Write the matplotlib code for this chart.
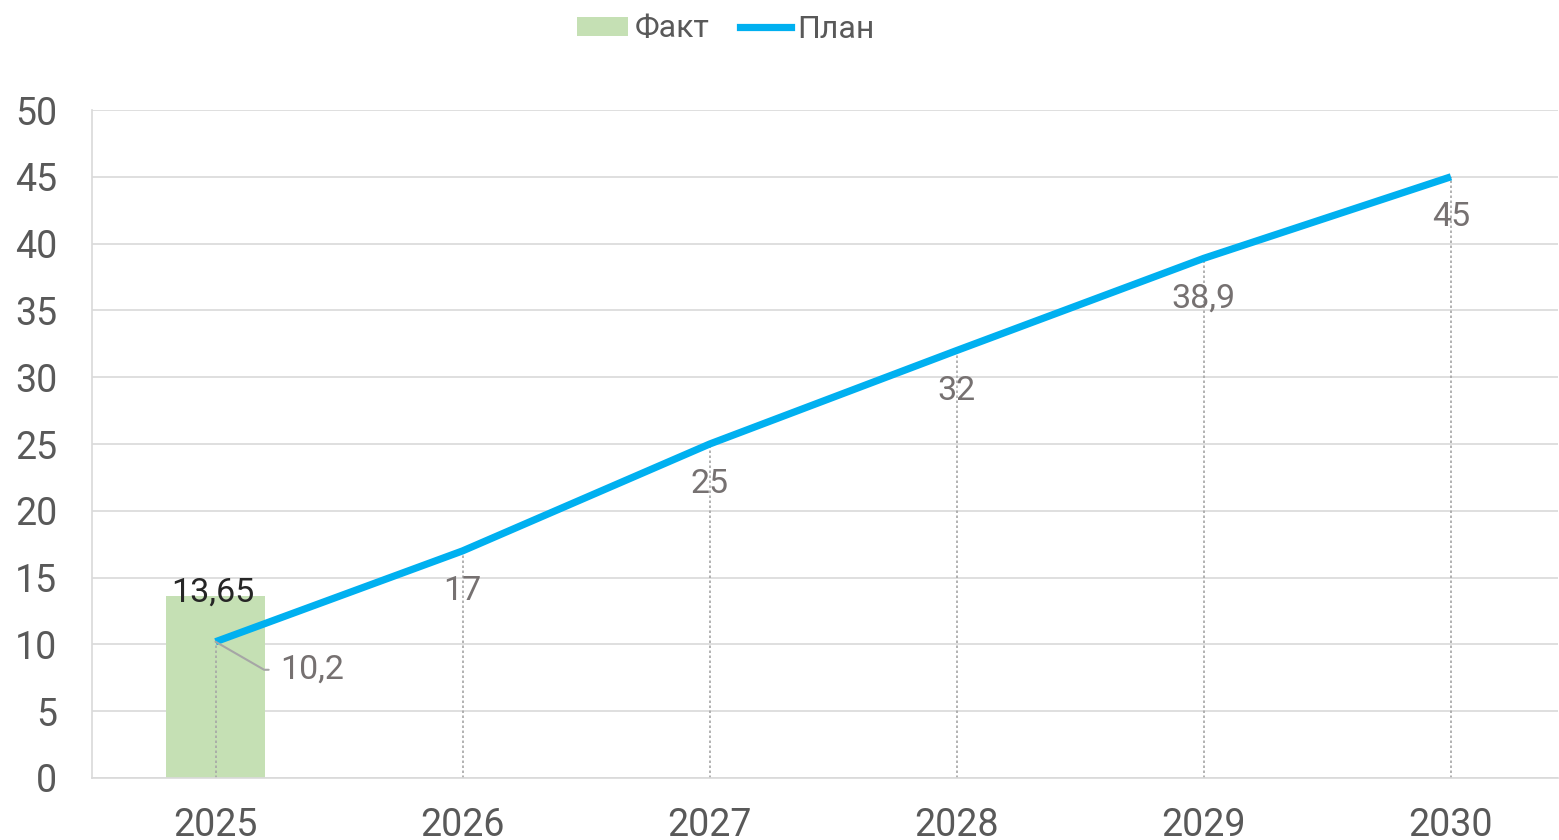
import matplotlib
matplotlib.use("Agg")
import matplotlib.pyplot as plt
from matplotlib.patches import Patch
from matplotlib.lines import Line2D

plt.rcParams['font.family'] = ['Roboto', 'DejaVu Sans']

years = ['2025', '2026', '2027', '2028', '2029', '2030']
fact = [13.65]
plan = [10.2, 17, 25, 32, 38.9, 45]
plan_labels = ['10,2', '17', '25', '32', '38,9', '45']
fact_labels = ['13,65']
yticks = [0, 5, 10, 15, 20, 25, 30, 35, 40, 45, 50]

bar_color = '#c5e0b4'
line_color = '#00b0f0'
grid_color = '#d9d9d9'
text_color = '#595959'
label_color = '#767171'

fig = plt.figure(figsize=(15.59, 8.40), dpi=100)
ax = fig.add_axes([92/1559, 1-778/840, (1558-92)/1559, (778-110)/840])

x = list(range(len(years)))

# gridlines
for t in yticks:
    ax.axhline(t, color=grid_color, lw=1.2, zorder=0)

# bar
ax.bar(x[:len(fact)], fact, width=0.4, color=bar_color, zorder=1)

# drop lines
for xi, v in zip(x, plan):
    ax.plot([xi, xi], [0, v], color='#a6a6a6', lw=1.2, ls=(0, (1.5, 1.5)), zorder=2)

# line
ax.plot(x, plan, color=line_color, lw=5.2, solid_capstyle='butt', zorder=3)

# labels for plan
for xi, v, lab in zip(x, plan, plan_labels):
    if xi == 0:
        continue
    ax.annotate(lab, (xi, v), xytext=(0, -29), textcoords='offset points',
                ha='center', va='center', fontsize=24.5, color=label_color, zorder=4)

# leader label for first point
ax.annotate(plan_labels[0], (x[0], plan[0]), xytext=(x[0] + 0.26, plan[0] - 2.1),
            textcoords='data', ha='left', va='center', fontsize=24.5, color=label_color,
            arrowprops=dict(arrowstyle='-', color='#a6a6a6', lw=1.5,
                            connectionstyle='angle,angleA=0,angleB=-30,rad=0',
                            shrinkA=6, shrinkB=0), zorder=4)

# fact label
for xi, v, lab in zip(x, fact, fact_labels):
    ax.text(xi - 0.01, v - 0.95, lab, ha='center', va='bottom', fontsize=24.5, color='#262626', zorder=4)

ax.set_xlim(-0.5, (1558-216)/247)
ax.set_ylim(0, 50)
ax.set_yticks(yticks)
ax.set_yticklabels([str(t) for t in yticks])
ax.set_xticks(x)
ax.set_xticklabels(years)
ax.tick_params(axis='both', length=0, labelsize=27, colors=text_color)
ax.tick_params(axis='y', pad=25)
ax.tick_params(axis='x', pad=21)

for s in ['top', 'right']:
    ax.spines[s].set_visible(False)
for s in ['left', 'bottom']:
    ax.spines[s].set_color(grid_color)
    ax.spines[s].set_linewidth(1.2)

handles = [Patch(facecolor=bar_color, edgecolor='none'),
           Line2D([0], [0], color=line_color, lw=5.2)]
fig.legend(handles, ['Факт', 'План'], loc='center', bbox_to_anchor=(726/1559, 1-29/840),
           ncol=2, frameon=False, fontsize=23, labelcolor=text_color,
           handlelength=1.6, handletextpad=0.2, columnspacing=0.95,
           handleheight=0.55)

fig.savefig('out.png', dpi=100)
